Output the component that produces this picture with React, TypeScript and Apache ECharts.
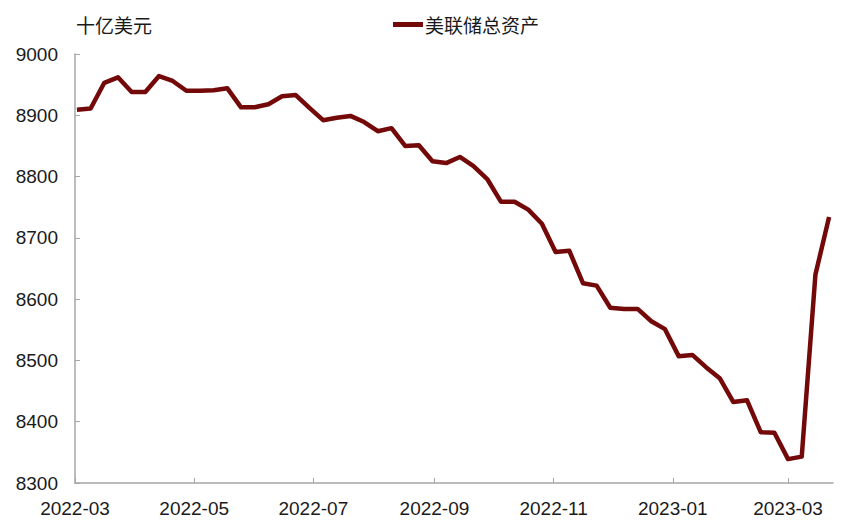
import { useEffect, useRef } from "react";
import * as echarts from "echarts";

// 美联储总资产（周度，十亿美元）
const dates = [
  "2022-03-02", "2022-03-09", "2022-03-16", "2022-03-23", "2022-03-30",
  "2022-04-06", "2022-04-13", "2022-04-20", "2022-04-27", "2022-05-04",
  "2022-05-11", "2022-05-18", "2022-05-25", "2022-06-01", "2022-06-08",
  "2022-06-15", "2022-06-22", "2022-06-29", "2022-07-06", "2022-07-13",
  "2022-07-20", "2022-07-27", "2022-08-03", "2022-08-10", "2022-08-17",
  "2022-08-24", "2022-08-31", "2022-09-07", "2022-09-14", "2022-09-21",
  "2022-09-28", "2022-10-05", "2022-10-12", "2022-10-19", "2022-10-26",
  "2022-11-02", "2022-11-09", "2022-11-16", "2022-11-23", "2022-11-30",
  "2022-12-07", "2022-12-14", "2022-12-21", "2022-12-28", "2023-01-04",
  "2023-01-11", "2023-01-18", "2023-01-25", "2023-02-01", "2023-02-08",
  "2023-02-15", "2023-02-22", "2023-03-01", "2023-03-08", "2023-03-15",
  "2023-03-22",
];

const totalAssets = [
  8909, 8911, 8953, 8962, 8938,
  8938, 8964, 8956, 8940, 8940,
  8941, 8944, 8913, 8913, 8918,
  8931, 8933, 8912, 8892, 8896,
  8899, 8889, 8874, 8879, 8850,
  8851, 8825, 8822, 8832, 8817,
  8796, 8759, 8759, 8746, 8723,
  8677, 8679, 8626, 8622, 8586,
  8584, 8584, 8564, 8551, 8507,
  8509, 8489, 8471, 8432, 8435,
  8383, 8382, 8339, 8343, 8640,
  8734,
];

const yTicks = [8300, 8400, 8500, 8600, 8700, 8800, 8900, 9000];

const seriesName = "美联储总资产";
const unitLabel = "十亿美元";

const lineColor = "#730909";
const axisColor = "#a6a6a6";
const textColor = "#1a1a1a";
const latin = "'Liberation Sans', Arial, sans-serif";
const cjk = "'Noto Sans CJK SC', sans-serif";

export default function App() {
  const ref = useRef<HTMLDivElement | null>(null);

  useEffect(() => {
    document.body.style.margin = "0";
    if (!ref.current) return;
    const chart = echarts.init(ref.current, null, { renderer: "svg" });

    chart.setOption({
      animation: false,
      backgroundColor: "#fff",
      grid: { left: 75, right: 26, top: 54, bottom: 46 },
      title: {
        text: unitLabel,
        left: 71,
        top: 10,
        textStyle: { fontFamily: cjk, fontSize: 19, fontWeight: "normal", color: textColor },
      },
      legend: {
        data: [seriesName],
        left: 388,
        top: 10,
        icon: "rect",
        itemWidth: 30,
        itemHeight: 5,
        itemGap: 4,
        textStyle: { fontFamily: cjk, fontSize: 19, color: textColor, padding: [0, 0, 0, -3] },
      },
      xAxis: {
        type: "time",
        min: new Date("2022-03-01").getTime(),
        max: new Date("2023-03-24").getTime(),
        splitNumber: 6,
        axisLine: { lineStyle: { color: axisColor, width: 1.5 } },
        axisTick: { inside: true, length: 5, lineStyle: { color: axisColor } },
        splitLine: { show: false },
        axisLabel: {
          formatter: "{yyyy}-{MM}",
          color: textColor,
          fontFamily: latin,
          fontSize: 19,
          margin: 16,
          showMinLabel: true,
          showMaxLabel: false,
          hideOverlap: false,
        },
      },
      yAxis: {
        type: "value",
        min: yTicks[0],
        max: yTicks[yTicks.length - 1],
        interval: 100,
        axisLine: { show: true, lineStyle: { color: axisColor, width: 1.5 } },
        axisTick: { show: true, inside: true, length: 5, lineStyle: { color: axisColor } },
        splitLine: { show: false },
        axisLabel: {
          color: textColor,
          fontFamily: latin,
          fontSize: 19,
          margin: 17,
          formatter: (v: number) => String(v),
        },
      },
      series: [
        {
          name: seriesName,
          type: "line",
          data: dates.map((d, i) => [d, totalAssets[i]]),
          symbol: "none",
          lineStyle: { width: 4.5, color: lineColor, join: "round" },
          itemStyle: { color: lineColor },
        },
      ],
    });

    return () => {
      chart.dispose();
    };
  }, []);

  return <div ref={ref} style={{ width: 859, height: 529 }} />;
}
